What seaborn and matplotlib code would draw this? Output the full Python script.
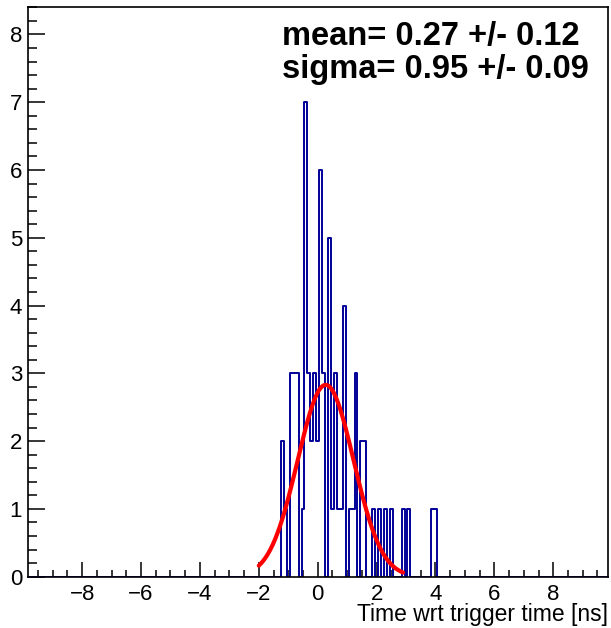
import matplotlib
matplotlib.use('Agg')
import matplotlib.pyplot as plt
from matplotlib.ticker import MultipleLocator
import numpy as np
import pandas as pd
import seaborn as sns

# bin centres [ns] of the filled bins (bin width 0.1 ns) and their entries
time_ns = [-1.2, -1.1, -0.9, -0.8, -0.7, -0.5, -0.4, -0.3, -0.2, -0.1,
           0.0, 0.1, 0.2, 0.4, 0.5, 0.6, 0.7, 0.8, 0.9,
           1.1, 1.2, 1.3, 1.5, 1.6, 1.9, 2.1, 2.3,
           2.5, 2.9, 3.1, 3.9, 4.0]
counts = [2, 1, 3, 3, 3, 1, 7, 3, 2, 3,
          2, 6, 3, 5, 1, 3, 1, 1, 4,
          1, 1, 3, 2, 2, 1, 1, 1,
          1, 1, 1, 1, 1]

# histogram range and gaussian fit result
hist_lo, hist_hi, bin_width = -9.85, 9.85, 0.1
fit_amp, fit_mean, fit_sigma = 2.83, 0.27, 0.95
fit_lo, fit_hi = -2.0, 2.9
mean_err, sigma_err = 0.12, 0.09

sns.set_style('ticks')
plt.rcParams['font.family'] = ['Liberation Sans', 'DejaVu Sans']
plt.rcParams['text.color'] = 'black'
plt.rcParams['xtick.color'] = 'black'
plt.rcParams['ytick.color'] = 'black'
plt.rcParams['xtick.labelcolor'] = 'black'
plt.rcParams['ytick.labelcolor'] = 'black'

fig = plt.figure(figsize=(6.11, 6.28), dpi=100)
W, H = 611, 628
ax = fig.add_axes([27.7 / W, 1 - 576.7 / H, 580.0 / W, 569.4 / H])

df = pd.DataFrame({'time': time_ns, 'n': counts})
n_bins = int(round((hist_hi - hist_lo) / bin_width))
sns.histplot(data=df, x='time', weights='n', bins=n_bins,
             binrange=(hist_lo, hist_hi), element='step', fill=False,
             color='#000099', linewidth=1.4, ax=ax)

# gaussian fit curve
xf = np.linspace(fit_lo, fit_hi, 300)
yf = fit_amp * np.exp(-0.5 * ((xf - fit_mean) / fit_sigma) ** 2)
sns.lineplot(x=xf, y=yf, color='#ff0000', linewidth=3, ax=ax)

ax.set_xlim(hist_lo, hist_hi)
ax.set_ylim(0, 8.4)
ax.set_xlabel('')
ax.set_ylabel('')

ax.xaxis.set_major_locator(MultipleLocator(2))
ax.xaxis.set_minor_locator(MultipleLocator(0.5))
ax.yaxis.set_major_locator(MultipleLocator(1))
ax.yaxis.set_minor_locator(MultipleLocator(0.2))
ax.tick_params(which='both', direction='in', top=False, right=False,
               color='black', labelcolor='black', width=1.1, labelsize=16)
ax.tick_params(axis='x', which='major', length=11, pad=5)
ax.tick_params(axis='x', which='minor', length=5)
ax.tick_params(axis='y', which='major', length=12, pad=4)
ax.tick_params(axis='y', which='minor', length=6.5)

for side in ['top', 'bottom', 'left', 'right']:
    ax.spines[side].set_visible(True)
    ax.spines[side].set_linewidth(1.2)
    ax.spines[side].set_color('black')

# x axis title, ROOT-style at the right end
fig.text(607.7 / W, 1 - 621 / H, 'Time wrt trigger time [ns]',
         ha='right', va='baseline', fontsize=16.5, color='black')

# fit results
fig.text(282 / W, 1 - 45 / H, f'mean= {fit_mean:.2f} +/- {mean_err:.2f}',
         ha='left', va='baseline', fontsize=23.5, fontweight='bold',
         color='black')
fig.text(282 / W, 1 - 78 / H, f'sigma= {fit_sigma:.2f} +/- {sigma_err:.2f}',
         ha='left', va='baseline', fontsize=23.5, fontweight='bold',
         color='black')

fig.savefig('out.png', dpi=100)
